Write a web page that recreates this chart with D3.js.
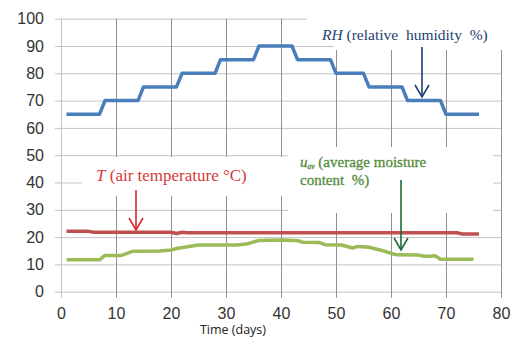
<!DOCTYPE html>
<html><head><meta charset="utf-8">
<script src="https://cdn.jsdelivr.net/npm/d3@7"></script>
<style>body{margin:0;background:#fff}svg{display:block}text{white-space:pre}</style>
</head><body>
<svg id="c" width="513" height="338"></svg>
<script>
const xTicks = [0,10,20,30,40,50,60,70,80];
const yTicks = [0,10,20,30,40,50,60,70,80,90,100];
const rhDays = [1,7,8,14,15,21,22,28,29,35,36,42,43,49,50,55,56,62,63,69,70,76];
const rhVals = [65,65,70,70,75,75,80,80,85,85,90,90,85,85,80,80,75,75,70,70,65,65];
const tDays = [1,5,6,20,21,22,23,72,73,76];
const tVals = [22.1,22.1,21.8,21.8,21.3,21.8,21.6,21.6,21.1,21.1];
const uDays = [1,7,8,11,13,18,20,21,23,25,32,34,36,40,42,43,44,47,48,51,53,54,56,58,60,61,65,66,67,68,69,75];
const uVals = [11.7,11.7,13.3,13.3,14.8,14.9,15.3,15.8,16.5,17.1,17.1,17.6,18.8,18.9,18.8,18.7,18.1,18.0,17.2,17.1,16.0,16.6,16.3,15.3,14.1,13.5,13.4,13.0,13.0,13.2,11.9,11.9];
const xTitle = "Time (days)";

const svg = d3.select("#c");
const x = d3.scaleLinear().domain([0,80]).range([61,501]);
const y = d3.scaleLinear().domain([0,100]).range([291.7,18.7]);

// horizontal gridlines + left labels
const gy = svg.append("g").attr("transform","translate(61,0)")
  .call(d3.axisLeft(y).tickValues(yTicks).tickSizeInner(-440).tickSizeOuter(0).tickPadding(17));
gy.select(".domain").remove();
gy.selectAll(".tick line").attr("x1",-6).attr("x2",440).attr("stroke","#c4c4c4");
gy.selectAll(".tick text").attr("font-family","Liberation Sans, Arial, sans-serif").attr("font-size",16).attr("fill","#333");

// vertical gridlines + bottom labels
const gx = svg.append("g").attr("transform","translate(0,291.7)")
  .call(d3.axisBottom(x).tickValues(xTicks).tickSizeInner(6).tickSizeOuter(0).tickPadding(10));
gx.select(".domain").remove();
gx.selectAll(".tick line").attr("y1",6).attr("y2",y(100)-291.7).attr("stroke","#909090");
gx.selectAll(".tick line").filter(d=>d===0).attr("stroke","#c4c4c4");
gx.selectAll(".tick text").attr("font-family","Liberation Sans, Arial, sans-serif").attr("font-size",16).attr("fill","#333");

svg.append("text").attr("x",233).attr("y",334).attr("text-anchor","middle")
  .attr("font-family","Open Sans, sans-serif").attr("font-size",12.5).attr("fill","#222").text(xTitle);

// label boxes (white background of text boxes)
const boxes = [[307,0,206,40],[334,0,179,50],[82,157,206,39],[288,147,205,66]];
svg.selectAll("rect.box").data(boxes).join("rect").attr("class","box")
  .attr("x",d=>d[0]).attr("y",d=>d[1]).attr("width",d=>d[2]).attr("height",d=>d[3]).attr("fill","#fff");

const line = d3.line().x(d=>x(d[0])).y(d=>y(d[1]));
function series(days, vals, color){
  svg.append("path").datum(d3.zip(days, vals)).attr("d", line)
    .attr("fill","none").attr("stroke",color).attr("stroke-width",3.5).attr("stroke-linejoin","round");
}
series(tDays, tVals, "#c0504d");
series(uDays, uVals, "#9bbb59");
series(rhDays, rhVals, "#4a7ebb");

const serif = "Liberation Serif, Times New Roman, serif";
function arrow(xx, y1, y2, color){
  svg.append("line").attr("x1",xx).attr("x2",xx).attr("y1",y1).attr("y2",y2).attr("stroke",color).attr("stroke-width",1.6);
  svg.append("path").attr("d",`M${xx-7},${y2-12}L${xx},${y2}L${xx+7},${y2-12}`).attr("fill","none").attr("stroke",color).attr("stroke-width",1.6);
}
// RH label
const rh = svg.append("text").attr("x",322).attr("y",40).attr("font-family",serif).attr("font-size",15.5).attr("fill","#243f6e");
rh.append("tspan").attr("font-style","italic").text("RH");
rh.append("tspan").text(" (relative  humidity  %)");
arrow(422, 47, 97, "#1f3f73");

// T label
const tt = svg.append("text").attr("x",96).attr("y",181).attr("font-family",serif).attr("font-size",17).attr("fill","#d43a3a");
tt.append("tspan").attr("font-style","italic").text("T");
tt.append("tspan").text(" (air temperature °C)");
arrow(136, 190, 230, "#d42a2a");

// u_av label
const ucol = "#558c3e";
const u1 = svg.append("text").attr("x",300).attr("y",167).attr("font-family",serif).attr("font-size",15).attr("fill",ucol).attr("stroke",ucol).attr("stroke-width",0.3);
u1.append("tspan").attr("font-style","italic").text("u");
u1.append("tspan").attr("font-style","italic").attr("font-size",7.5).attr("dy",1.5).text("av");
u1.append("tspan").attr("dy",-1.5).text(" (average moisture");
svg.append("text").attr("x",300).attr("y",185).attr("font-family",serif).attr("font-size",15).attr("fill",ucol).attr("stroke",ucol).attr("stroke-width",0.3).text("content  %)");
arrow(401, 180, 250, "#1e6b35");
</script>
</body></html>
